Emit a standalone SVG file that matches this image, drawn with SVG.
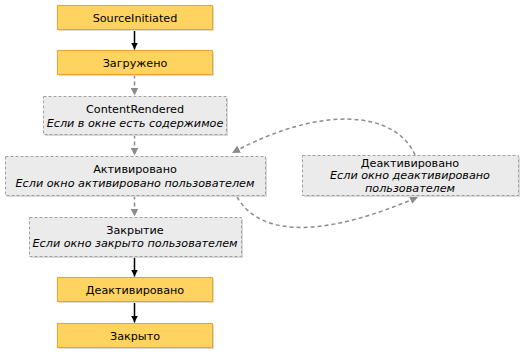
<svg xmlns="http://www.w3.org/2000/svg" width="527" height="357" viewBox="0 0 527 357">
  <style>
    .bg { fill: #ffffff; }
    .shadow { fill: #dadada; }
    .state { fill: #ffd35f; stroke: #f0a030; stroke-width: 1; }
    .cond { fill: #ebebeb; stroke: #a0a0a0; stroke-width: 1; stroke-dasharray: 3 2; }
    .label { font-family: "DejaVu Sans", Verdana, sans-serif; font-size: 11.2px; fill: #000000; text-anchor: middle; }
    .note { font-style: italic; }
    .solid { fill: none; stroke: #000000; stroke-width: 1.5; }
    .dashed { fill: none; stroke: #8c8c8c; stroke-width: 1.5; stroke-dasharray: 4 3; }
  </style>
  <defs>
    <marker id="headBlack" viewBox="0 0 10 10" refX="10" refY="5" markerWidth="7" markerHeight="7" markerUnits="userSpaceOnUse" orient="auto">
      <path d="M0,0 L10,5 L0,10 Z" fill="#000000"/>
    </marker>
    <marker id="headGray" viewBox="0 0 10 10" refX="10" refY="5" markerWidth="8" markerHeight="8" markerUnits="userSpaceOnUse" orient="auto">
      <path d="M0,0 L10,5 L0,10 Z" fill="#8c8c8c"/>
    </marker>
  </defs>

  <rect class="bg" x="0" y="0" width="527" height="357"/>

  <!-- connectors -->
  <g id="connectors">
    <path class="solid" d="M134.5,29.5 V49.5" marker-end="url(#headBlack)"/>
    <path class="dashed" d="M134.5,74.5 V95.5" marker-end="url(#headGray)"/>
    <path class="dashed" d="M134.5,134.5 V155.5" marker-end="url(#headGray)"/>
    <path class="dashed" d="M134.5,195.5 V216.5" marker-end="url(#headGray)"/>
    <path class="solid" d="M134.5,256.5 V276.5" marker-end="url(#headBlack)"/>
    <path class="solid" d="M134.5,301.5 V322.5" marker-end="url(#headBlack)"/>
    <!-- Деактивировано -> Активировано -->
    <path class="dashed" d="M415,155 C395,110 320,105 232,153" marker-end="url(#headGray)"/>
    <!-- Активировано -> Деактивировано -->
    <path class="dashed" d="M237,197 C262,240 330,235 418,197" marker-end="url(#headGray)"/>
  </g>

  <g id="source-initiated">
    <rect class="shadow" x="59" y="7" width="155" height="24"/>
    <rect class="state" x="57.5" y="5.5" width="155" height="24"/>
    <text class="label" x="135" y="21.5">SourceInitiated</text>
  </g>

  <g id="loaded">
    <rect class="shadow" x="59" y="52" width="155" height="24"/>
    <rect class="state" x="57.5" y="50.5" width="155" height="24"/>
    <text class="label" x="135" y="66.5">Загружено</text>
  </g>

  <g id="content-rendered">
    <rect class="shadow" x="45" y="98" width="183" height="38"/>
    <rect class="cond" x="43.5" y="96.5" width="183" height="38"/>
    <text class="label" x="135" y="112.5">ContentRendered</text>
    <text class="label note" x="135" y="126.5">Если в окне есть содержимое</text>
  </g>

  <g id="activated">
    <rect class="shadow" x="7" y="158" width="260" height="39"/>
    <rect class="cond" x="5.5" y="156.5" width="260" height="39"/>
    <text class="label" x="135" y="172.5">Активировано</text>
    <text class="label note" x="135" y="186.5">Если окно активировано пользователем</text>
  </g>

  <g id="deactivated-loop">
    <rect class="shadow" x="304" y="157" width="216" height="40"/>
    <rect class="cond" x="302.5" y="155.5" width="216" height="40"/>
    <text class="label" x="410" y="166.5">Деактивировано</text>
    <text class="label note" x="410" y="179">Если окно деактивировано</text>
    <text class="label note" x="410" y="191.5">пользователем</text>
  </g>

  <g id="closing">
    <rect class="shadow" x="31" y="219" width="212" height="39"/>
    <rect class="cond" x="29.5" y="217.5" width="212" height="39"/>
    <text class="label" x="135" y="233.5">Закрытие</text>
    <text class="label note" x="135" y="247">Если окно закрыто пользователем</text>
  </g>

  <g id="deactivated">
    <rect class="shadow" x="59" y="279" width="155" height="24"/>
    <rect class="state" x="57.5" y="277.5" width="155" height="24"/>
    <text class="label" x="135" y="293.5">Деактивировано</text>
  </g>

  <g id="closed">
    <rect class="shadow" x="59" y="325" width="155" height="24"/>
    <rect class="state" x="57.5" y="323.5" width="155" height="24"/>
    <text class="label" x="135" y="339.5">Закрыто</text>
  </g>
</svg>
